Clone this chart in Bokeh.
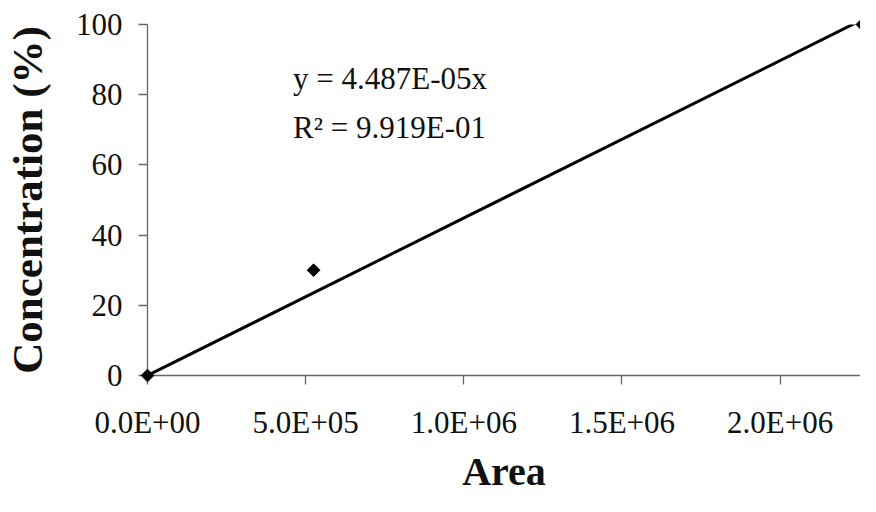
import numpy as np
from bokeh.plotting import figure
from bokeh.models import FixedTicker, Range1d, Label
from bokeh.embed import file_html
from bokeh.resources import INLINE

# data
area = [0.0, 5.25e5, 2.26e6]
concentration = [0.0, 30.0, 100.0]
slope = 4.487e-05
r_squared = "9.919E-01"
x_ticks = [0, 500000, 1000000, 1500000, 2000000]
x_tick_labels = ["0.0E+00", "5.0E+05", "1.0E+06", "1.5E+06", "2.0E+06"]
y_ticks = [0, 20, 40, 60, 80, 100]

FONT = "Liberation Serif"

p = figure(width=860, height=496, output_backend="svg", toolbar_location=None,
           x_range=Range1d(0, 2.254e6), y_range=Range1d(0, 100),
           min_border_left=146, min_border_right=0, min_border_top=24,
           min_border_bottom=120)
p.outline_line_color = None
p.background_fill_color = "white"
p.border_fill_color = "white"

# grids: only the top line at 100
p.xgrid.visible = False
p.ygrid.ticker = FixedTicker(ticks=[100])
p.ygrid.grid_line_color = "#8a8a8a"
p.ygrid.grid_line_width = 1.2

for ax in (p.xaxis[0], p.yaxis[0]):
    ax.axis_line_color = "#666666"
    ax.axis_line_width = 1.3
    ax.major_tick_line_color = "#666666"
    ax.major_tick_line_width = 1.3
    ax.major_tick_in = 0
    ax.major_tick_out = 9
    ax.minor_tick_line_color = None
    ax.major_label_text_font = FONT
    ax.major_label_text_font_size = "31px"
    ax.major_label_text_color = "#111111"
    ax.axis_label_text_font = FONT
    ax.axis_label_text_font_style = "bold"
    ax.axis_label_text_color = "#111111"

p.xaxis.ticker = FixedTicker(ticks=x_ticks)
p.xaxis.major_label_overrides = {t: l for t, l in zip(x_ticks, x_tick_labels)}
p.xaxis.major_label_standoff = 20
p.xaxis.axis_label = "Area"
p.xaxis.axis_label_text_font_size = "40px"
p.xaxis.axis_label_standoff = 6

p.yaxis.ticker = FixedTicker(ticks=y_ticks)
p.yaxis.major_label_standoff = 16
p.yaxis.axis_label = "Concentration (%)"
p.yaxis.axis_label_text_font_size = "43px"
p.yaxis.axis_label_standoff = 22

# trendline
xs = np.array([0.0, max(area)])
p.line(xs, slope * xs, line_color="black", line_width=3)

# points
r = p.scatter(area, concentration, marker="square", angle=np.pi / 4, size=9,
              fill_color="black", line_color="black")
r.level = "overlay"

p.add_layout(Label(x=4.6e5, y=84.7, text="y = %.3fE-05x" % (slope * 1e5),
                   text_font=FONT, text_font_size="31px", text_color="#111111",
                   text_baseline="alphabetic"))
p.add_layout(Label(x=4.6e5, y=70.7, text="R\u00b2 = " + r_squared,
                   text_font=FONT, text_font_size="31px", text_color="#111111",
                   text_baseline="alphabetic"))

open("out.html", "w").write(file_html(p, INLINE))
